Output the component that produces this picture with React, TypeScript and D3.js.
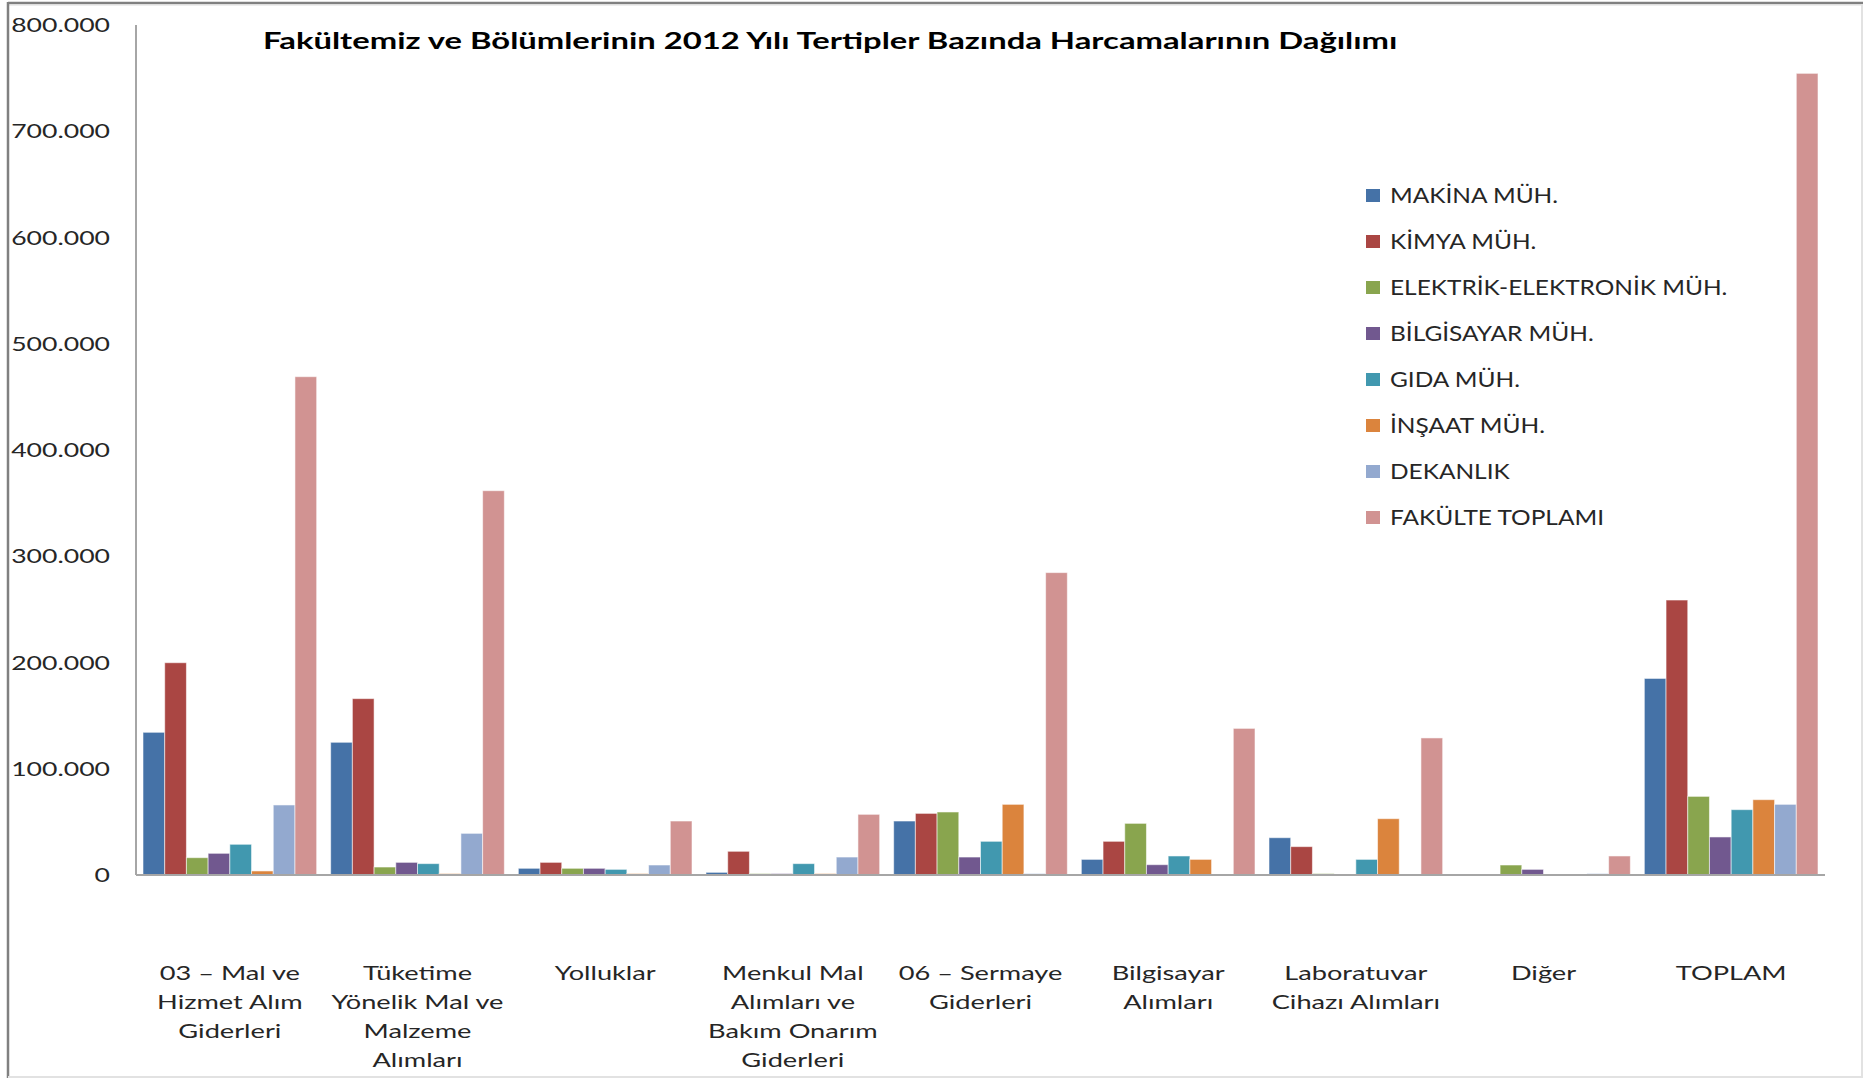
import React from "react";
import * as d3 from "d3";

const categories: string[][] = [
  ["03 – Mal ve", "Hizmet Alım", "Giderleri"],
  ["Tüketime", "Yönelik Mal ve", "Malzeme", "Alımları"],
  ["Yolluklar"],
  ["Menkul Mal", "Alımları ve", "Bakım Onarım", "Giderleri"],
  ["06 – Sermaye", "Giderleri"],
  ["Bilgisayar", "Alımları"],
  ["Laboratuvar", "Cihazı Alımları"],
  ["Diğer"],
  ["TOPLAM"],
];

const seriesNames = [
  "MAKİNA MÜH.",
  "KİMYA MÜH.",
  "ELEKTRİK-ELEKTRONİK MÜH.",
  "BİLGİSAYAR MÜH.",
  "GIDA MÜH.",
  "İNŞAAT MÜH.",
  "DEKANLIK",
  "FAKÜLTE TOPLAMI",
];

const seriesColors = ["#4572A7", "#AA4643", "#89A54E", "#71588F", "#4198AF", "#DB843D", "#93A9CF", "#D19392"];

// values in TL
const makina = [134300, 124900, 6300, 2500, 50800, 14700, 35100, 0, 185000];
const kimya = [199800, 166000, 11900, 22300, 58000, 31700, 26700, 0, 258800];
const elektrik = [16300, 7500, 6300, 1300, 59300, 48600, 1300, 9400, 74000];
const bilgisayar = [20400, 11900, 6300, 1300, 16900, 9700, 0, 5300, 35800];
const gida = [28900, 10700, 5300, 10700, 31700, 17900, 14700, 0, 61500];
const insaat = [3800, 1300, 1300, 1300, 66500, 14700, 53000, 0, 70900];
const dekanlik = [65900, 39200, 9400, 16900, 1300, 0, 0, 1300, 66500];
const fakulte = [469000, 361700, 50800, 57100, 284600, 138000, 129000, 17900, 754500];

const yTicks = [0, 100000, 200000, 300000, 400000, 500000, 600000, 700000, 800000];

const title = "Fakültemiz ve Bölümlerinin 2012 Yılı Tertipler Bazında Harcamalarının Dağılımı";

const allSeries = [makina, kimya, elektrik, bilgisayar, gida, insaat, dekanlik, fakulte];

const W = 1863;
const H = 1078;
const FONT = "Lato, 'Open Sans', sans-serif";
const TXT = "#262626";

function fmt(v: number) {
  if (v === 0) return "0";
  return d3.format(",")(v).replace(/,/g, ".");
}

function SText(props: { x: number; y: number; sx: number; anchor?: string; size: number; weight?: string | number; children: string; fill?: string }) {
  const { x, y, sx, anchor = "start", size, weight = "normal", children, fill = TXT } = props;
  return (
    <text
      transform={`translate(${x},${y}) scale(${sx},1)`}
      textAnchor={anchor}
      fontFamily={FONT}
      fontSize={size}
      fontWeight={weight}
      fill={fill}
    >
      {children}
    </text>
  );
}

export default function App() {
  const left = 136;
  const right = 1825;
  const top = 25;
  const bottom = 875;

  const x0 = d3.scaleBand<number>().domain(d3.range(categories.length)).range([left, right]).paddingInner(0).paddingOuter(0);
  const gap = 7;
  const x1 = d3.scaleBand<number>().domain(d3.range(seriesNames.length)).range([gap, x0.bandwidth() - gap]).padding(0);
  const y = d3.scaleLinear().domain([0, 800000]).range([bottom, top]);

  const legendX = 1366;
  const legendY0 = 195.5;
  const legendStep = 46;

  return (
    <svg width={W} height={H} style={{ position: "absolute", left: 0, top: 0, background: "#fff" }}>
      <rect x={0} y={0} width={W} height={H} fill="#fff" />
      {/* frame */}
      <line x1={8} y1={3} x2={W} y2={3} stroke="#808080" strokeWidth={2.5} />
      <line x1={8} y1={5} x2={W} y2={5} stroke="#dcdcdc" strokeWidth={1} />
      <line x1={8} y1={2} x2={8} y2={H} stroke="#808080" strokeWidth={2.5} />
      <line x1={W - 1} y1={4} x2={W - 1} y2={H} stroke="#e2e2e2" strokeWidth={2} />
      <line x1={8} y1={H - 1} x2={W} y2={H - 1} stroke="#e2e2e2" strokeWidth={2} />

      {/* title */}
      <SText x={263} y={49} sx={1.395} size={23.5} weight="bold" fill="#000">{title}</SText>

      {/* y tick labels */}
      {yTicks.map((t) => (
        <SText key={t} x={110} y={y(t) + 7} sx={1.43} size={18.6} anchor="end">{fmt(t)}</SText>
      ))}

      {/* bars */}
      {allSeries.map((vals, s) => (
        <g key={s} fill={seriesColors[s]}>
          {vals.map((v, c) =>
            v > 0 ? (
              <rect
                key={c}
                x={(x0(c) as number) + (x1(s) as number)}
                y={y(v)}
                width={x1.bandwidth()}
                height={y(0) - y(v)}
                stroke="rgba(255,255,255,0.55)"
                strokeWidth={1}
              />
            ) : null
          )}
        </g>
      ))}

      {/* axes */}
      <line x1={left} y1={top} x2={left} y2={bottom} stroke="#a6a6a6" strokeWidth={2} />
      <line x1={left} y1={bottom} x2={right} y2={bottom} stroke="#a6a6a6" strokeWidth={2} />

      {/* category labels */}
      {categories.map((lines, c) => (
        <g key={c}>
          {lines.map((ln, i) => (
            <SText key={i} x={(x0(c) as number) + x0.bandwidth() / 2} y={979.5 + i * 29} sx={1.36} size={20} anchor="middle">{ln}</SText>
          ))}
        </g>
      ))}

      {/* legend */}
      {seriesNames.map((n, i) => (
        <g key={n}>
          <rect x={legendX} y={legendY0 + i * legendStep - 6.5} width={14} height={13} fill={seriesColors[i]} />
          <SText x={1390} y={legendY0 + i * legendStep + 7.5} sx={1.165} size={21}>{n}</SText>
        </g>
      ))}
    </svg>
  );
}
